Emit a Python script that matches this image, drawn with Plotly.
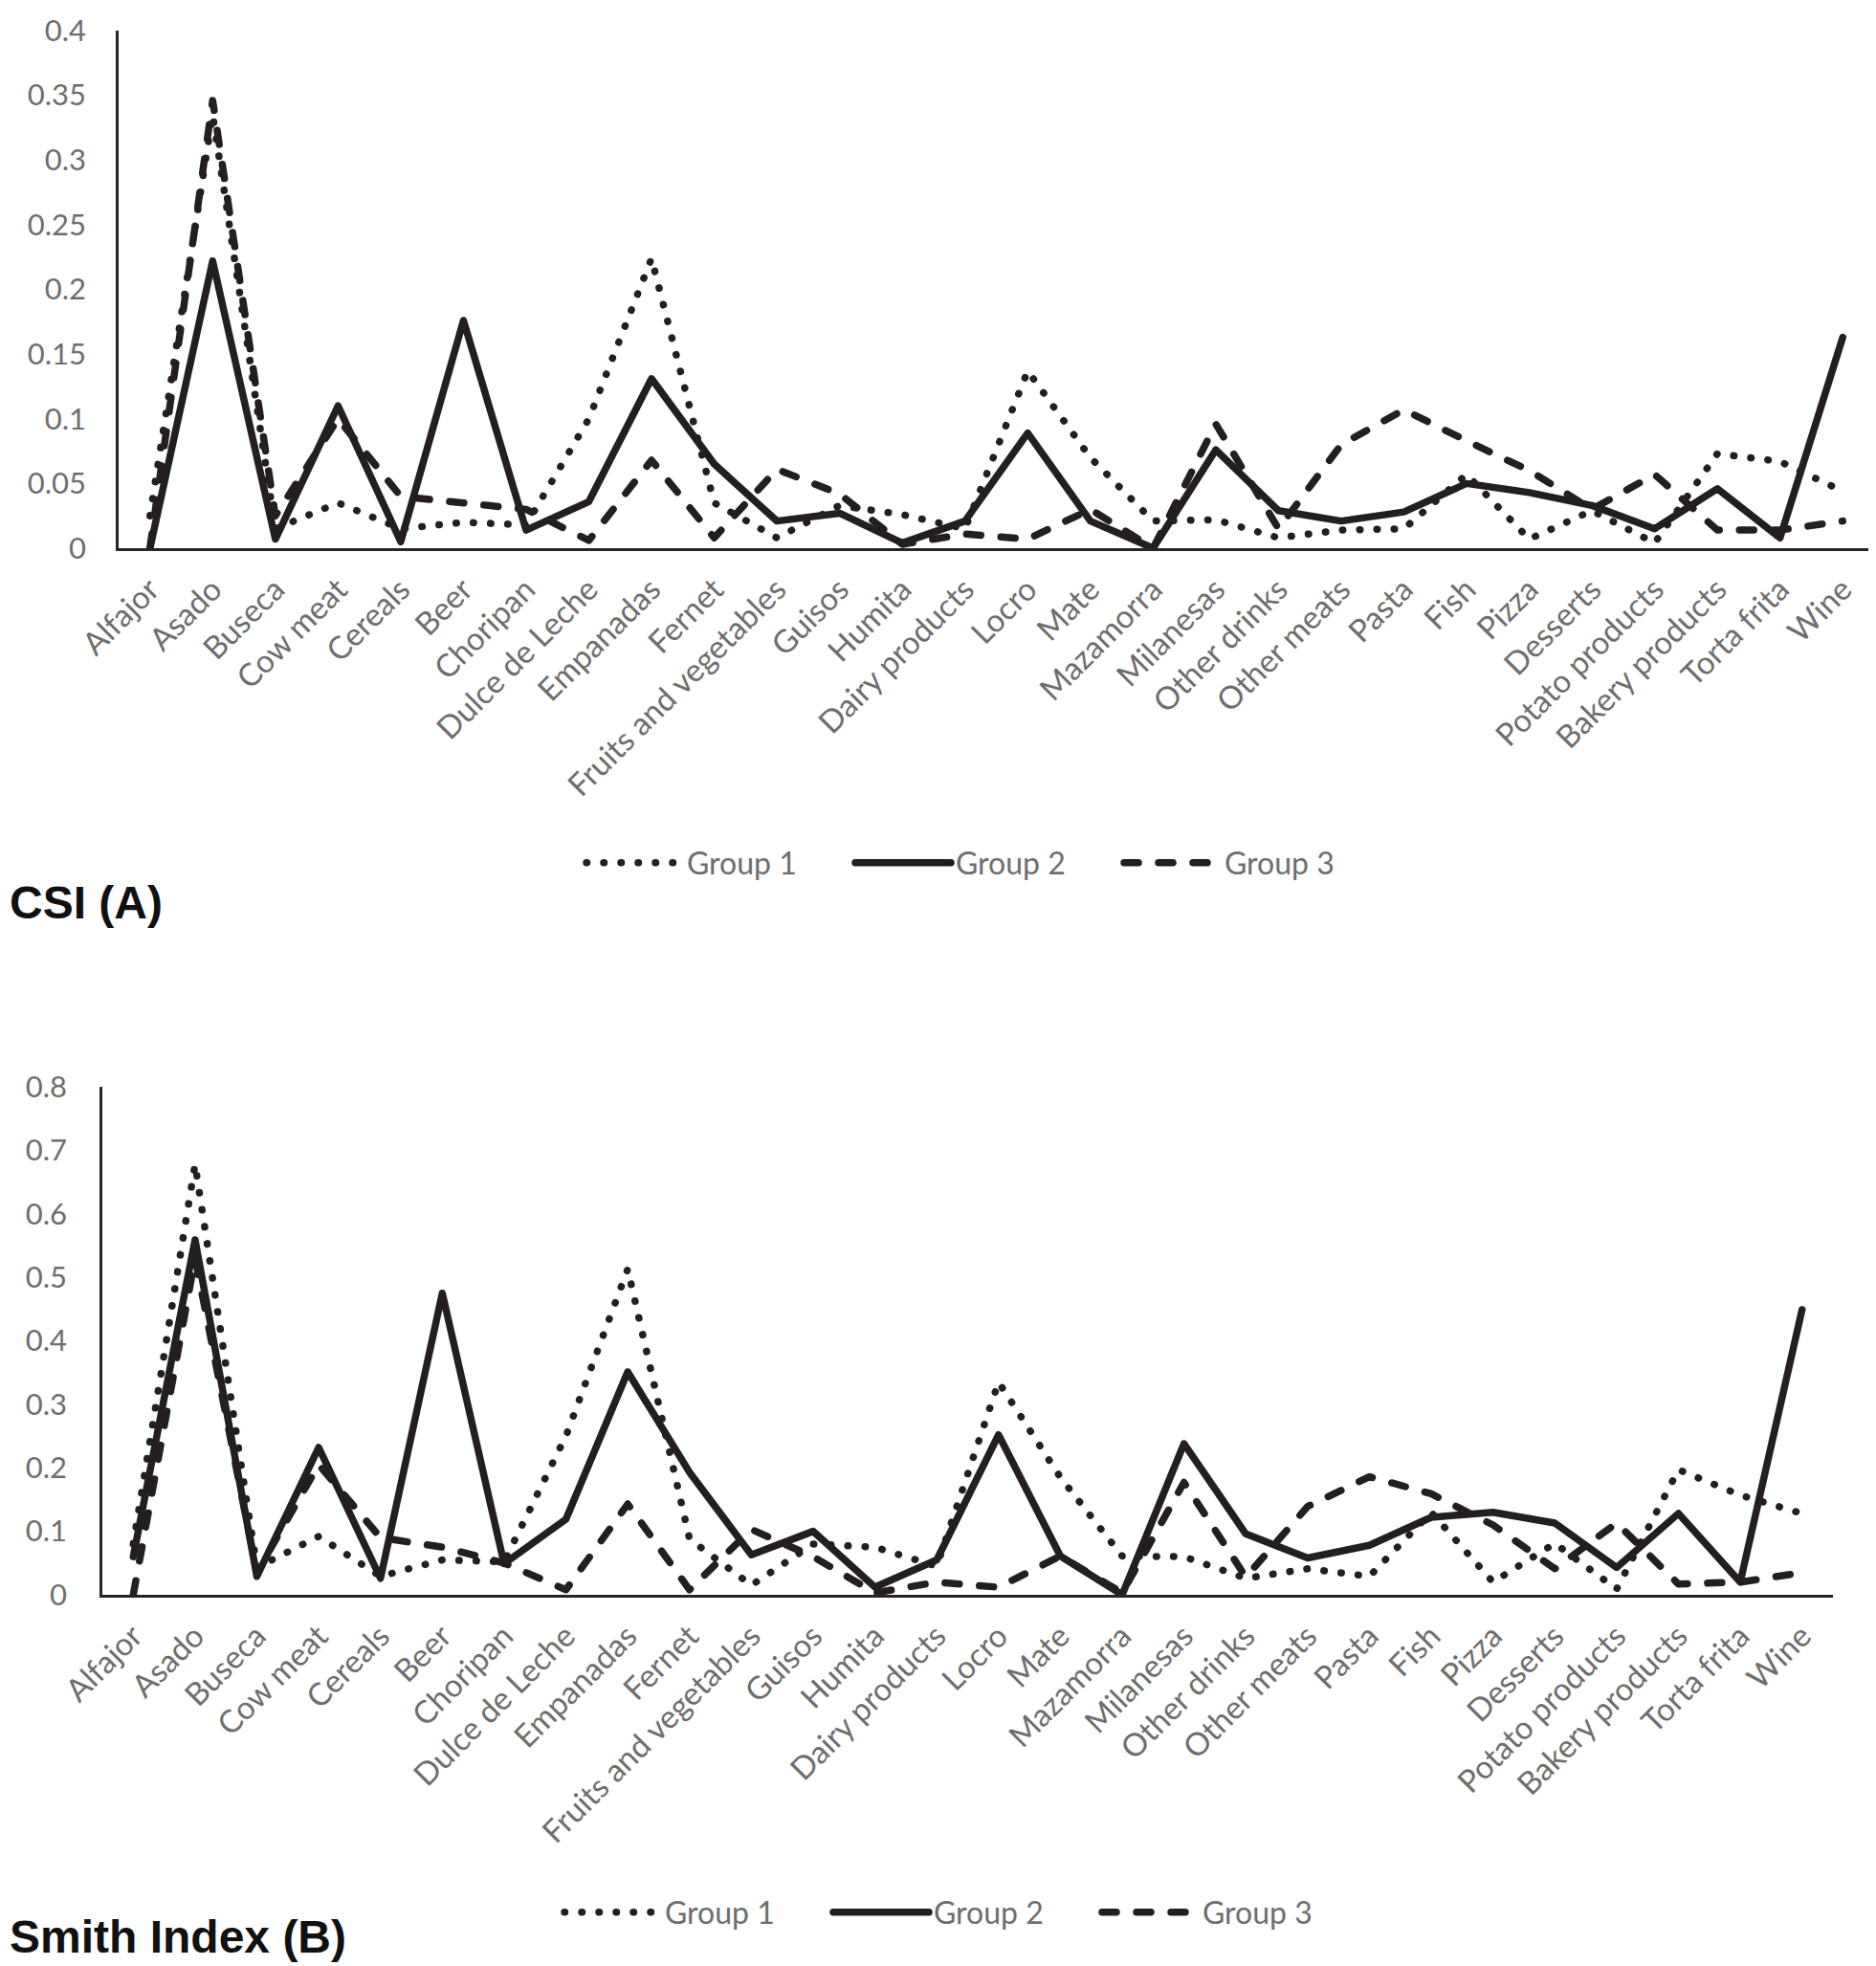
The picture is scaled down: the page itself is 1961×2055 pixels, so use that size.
import plotly.graph_objects as go

W, H = 1961, 2055

categories = ["Alfajor", "Asado", "Buseca", "Cow meat", "Cereals", "Beer", "Choripan",
              "Dulce de Leche", "Empanadas", "Fernet", "Fruits and vegetables", "Guisos",
              "Humita", "Dairy products", "Locro", "Mate", "Mazamorra", "Milanesas",
              "Other drinks", "Other meats", "Pasta", "Fish", "Pizza", "Desserts",
              "Potato products", "Bakery products", "Torta frita", "Wine"]

# CSI (A)
csi_group1 = [0.025, 0.335, 0.015, 0.035, 0.015, 0.020, 0.018, 0.100, 0.224, 0.035, 0.008, 0.033,
              0.026, 0.015, 0.137, 0.070, 0.021, 0.022, 0.008, 0.014, 0.015, 0.057, 0.007, 0.029,
              0.004, 0.073, 0.067, 0.044]
csi_group2 = [0.000, 0.222, 0.007, 0.110, 0.005, 0.176, 0.014, 0.036, 0.131, 0.065, 0.021, 0.027,
              0.004, 0.021, 0.089, 0.021, 0.000, 0.076, 0.029, 0.021, 0.028, 0.050, 0.043, 0.033,
              0.015, 0.046, 0.008, 0.163]
csi_group3 = [0.000, 0.346, 0.025, 0.100, 0.040, 0.035, 0.030, 0.006, 0.068, 0.008, 0.061, 0.042,
              0.003, 0.011, 0.007, 0.030, 0.000, 0.096, 0.015, 0.080, 0.107, 0.083, 0.060, 0.030,
              0.057, 0.014, 0.014, 0.021]

# Smith Index (B)
smith_group1 = [0.080, 0.678, 0.043, 0.092, 0.029, 0.055, 0.052, 0.250, 0.513, 0.088, 0.015, 0.080,
                0.075, 0.045, 0.335, 0.185, 0.061, 0.060, 0.026, 0.041, 0.029, 0.130, 0.020, 0.081,
                0.009, 0.197, 0.157, 0.128]
smith_group2 = [0.060, 0.559, 0.029, 0.232, 0.026, 0.475, 0.049, 0.119, 0.351, 0.193, 0.063, 0.100,
                0.012, 0.055, 0.252, 0.061, 0.000, 0.238, 0.096, 0.058, 0.078, 0.122, 0.130, 0.113,
                0.043, 0.128, 0.020, 0.449]
smith_group3 = [0.000, 0.530, 0.035, 0.205, 0.090, 0.075, 0.050, 0.008, 0.143, 0.008, 0.103, 0.060,
                0.003, 0.020, 0.012, 0.061, 0.003, 0.177, 0.028, 0.139, 0.186, 0.159, 0.110, 0.041,
                0.113, 0.017, 0.020, 0.035]

group_names = ["Group 1", "Group 2", "Group 3"]

LINE = "#231f20"
GREY = "#6e6e6e"
FONT = "Lato"
dashes = ["0.5px,17.5px", "solid", "15px,21px"]
LW = 7.5


def px_x(p):
    return p / W


def px_y(p):
    return 1 - p / H


fig = go.Figure()

for name, vals, dash in zip(group_names, [csi_group1, csi_group2, csi_group3], dashes):
    fig.add_trace(go.Scatter(x=categories, y=vals, mode="lines", name=name,
                             line=dict(color=LINE, width=LW, dash=dash),
                             xaxis="x", yaxis="y", legend="legend", cliponaxis=False,
                             hoverinfo="skip"))

for name, vals, dash in zip(group_names, [smith_group1, smith_group2, smith_group3], dashes):
    fig.add_trace(go.Scatter(x=categories, y=vals, mode="lines", name=name,
                             line=dict(color=LINE, width=LW, dash=dash),
                             xaxis="x2", yaxis="y2", legend="legend2", cliponaxis=False,
                             hoverinfo="skip"))

xtickfont = dict(family=FONT, size=33, color=GREY)
ytickfont = dict(family=FONT, size=31, color=GREY)
common_x = dict(type="category", range=[-0.5, len(categories) - 0.5], showline=True,
                linecolor="#262626", linewidth=2.5, showgrid=False, zeroline=False,
                ticks="", tickangle=-45, tickfont=xtickfont, ticklabelstandoff=8,
                automargin=False, ticklabeloverflow="allow")
common_y = dict(showline=True, linecolor="#262626", linewidth=2.5, showgrid=False,
                zeroline=False, ticks="", tickfont=ytickfont, automargin=False,
                ticklabeloverflow="allow")

legend_common = dict(orientation="h", xanchor="left", yanchor="middle",
                     font=dict(family=FONT, size=32, color=GREY), itemwidth=100,
                     entrywidth=166, entrywidthmode="pixels",
                     bgcolor="rgba(0,0,0,0)", traceorder="normal", itemclick=False)

fig.update_layout(
    width=W, height=H,
    margin=dict(l=0, r=0, t=0, b=0, autoexpand=False),
    paper_bgcolor="white", plot_bgcolor="white",
    showlegend=True,
    xaxis=dict(domain=[px_x(116), px_x(1951)], anchor="y", **common_x),
    yaxis=dict(domain=[px_y(565), px_y(24)], anchor="x", range=[0, 0.4], dtick=0.05,
               ticklabelstandoff=25, **common_y),
    xaxis2=dict(domain=[px_x(99), px_x(1908)], anchor="y2", **common_x),
    yaxis2=dict(domain=[px_y(1659), px_y(1128)], anchor="x2", range=[0, 0.8], dtick=0.1,
                ticklabelstandoff=28, **common_y),
    legend=dict(x=px_x(600), y=px_y(894), **legend_common),
    legend2=dict(x=px_x(577), y=px_y(1991), **legend_common),
    annotations=[
        dict(text="CSI (A)", x=0, y=px_y(935), xref="paper", yref="paper",
             xanchor="left", yanchor="middle", showarrow=False,
             font=dict(family="Liberation Sans", size=48, color="#111111", weight="bold")),
        dict(text="Smith Index (B)", x=0, y=px_y(2016), xref="paper", yref="paper",
             xanchor="left", yanchor="middle", showarrow=False,
             font=dict(family="Liberation Sans", size=48, color="#111111", weight="bold")),
    ],
)

post = """
var st = document.createElement('style');
st.textContent = 'path.js-line { stroke-linecap: round !important; stroke-linejoin: round !important; }';
document.head.appendChild(st);
function fixCaps(){
  document.querySelectorAll('path.js-line').forEach(function(p){
    p.style.setProperty('stroke-linecap', 'round', 'important');
    p.style.setProperty('stroke-linejoin', 'round', 'important');
    p.setAttribute('stroke-linecap', 'round');
  });
}
fixCaps();
setTimeout(fixCaps, 200);
setTimeout(fixCaps, 800);
"""

fig.write_html("out.html", post_script=post)
